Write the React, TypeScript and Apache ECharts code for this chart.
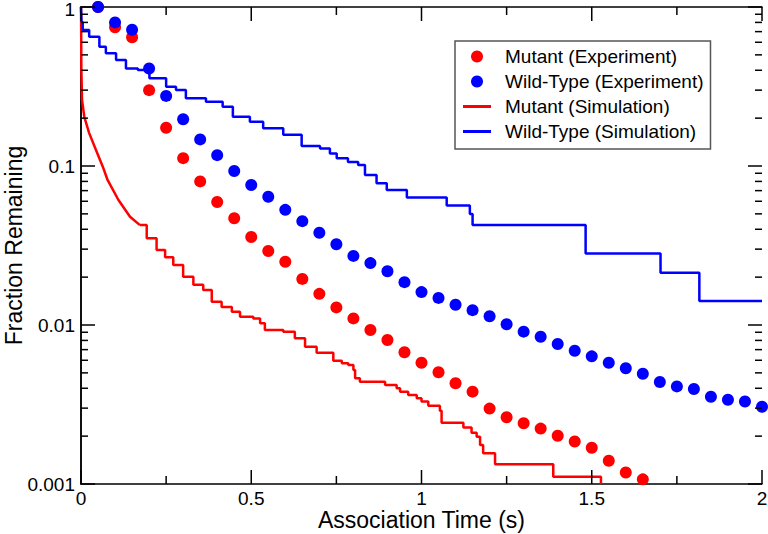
import React, { useEffect, useRef } from "react";
import * as echarts from "echarts";

// Experimental time points (s)
const expTimes = [0.05, 0.1, 0.15, 0.2, 0.25, 0.3, 0.35, 0.4, 0.45, 0.5, 0.55, 0.6, 0.65, 0.7, 0.75, 0.8, 0.85, 0.9, 0.95, 1.0,
  1.05, 1.1, 1.15, 1.2, 1.25, 1.3, 1.35, 1.4, 1.45, 1.5, 1.55, 1.6, 1.65, 1.7, 1.75, 1.8, 1.85, 1.9, 1.95, 2.0];

const mutantExp = [1.0, 0.745, 0.645, 0.30, 0.174, 0.112, 0.080, 0.0594, 0.0469, 0.0358, 0.0292, 0.025, 0.0195, 0.0157,
  0.0129, 0.0110, 0.0093, 0.00805, 0.00674, 0.00579, 0.00504, 0.0043, 0.00381, 0.00298, 0.00263, 0.00241, 0.00223,
  0.00201, 0.00185, 0.00169, 0.0014, 0.00118, 0.00107];

const wildExp = [1.0, 0.80, 0.72, 0.41, 0.276, 0.197, 0.147, 0.117, 0.093, 0.076, 0.064, 0.053, 0.045, 0.038, 0.0322,
  0.0272, 0.0245, 0.0218, 0.0186, 0.0161, 0.0148, 0.0134, 0.0124, 0.01135, 0.0101, 0.00908, 0.00844, 0.00760,
  0.00689, 0.00635, 0.00579, 0.00534, 0.00494, 0.00438, 0.00411, 0.00396, 0.00354, 0.00339, 0.0033, 0.00306];

// Mutant simulation: dense early decay (smooth) then stepwise survival curve
const mutantSimEarlyT = [0, 0.0005, 0.001, 0.003, 0.0097, 0.024, 0.044, 0.064, 0.078, 0.11, 0.144, 0.173];
const mutantSimEarlyV = [1.0, 0.75, 0.42, 0.26, 0.204, 0.161, 0.126, 0.099, 0.0817, 0.0611, 0.048, 0.0425];
const mutantSimT = [0.173, 0.193, 0.222,
  0.247, 0.271, 0.300, 0.330, 0.359, 0.384, 0.413, 0.443, 0.467, 0.506, 0.526, 0.540, 0.594, 0.628, 0.658, 0.692,
  0.741, 0.766, 0.785, 0.800, 0.805, 0.819, 0.893, 0.927, 0.937, 0.961, 0.986, 1.0, 1.02, 1.054, 1.059, 1.123,
  1.147, 1.162, 1.172, 1.181, 1.216, 1.387, 1.527];
const mutantSimV = [0.0425, 0.0351, 0.0296,
  0.0267, 0.0238, 0.0201, 0.0179, 0.0166, 0.0140, 0.0130, 0.0121, 0.01128, 0.0110, 0.01025, 0.0093, 0.00908, 0.00825,
  0.00731, 0.0067, 0.00596, 0.00574, 0.0056, 0.00521, 0.00462, 0.0044, 0.0042, 0.0040, 0.0038, 0.00363, 0.00346,
  0.0033, 0.0031, 0.00289, 0.00243, 0.00227, 0.0021, 0.00198, 0.00176, 0.00156, 0.00133, 0.00111, 0.001];

// Wild-type simulation survival curve
const wildSimT = [0, 0.0015, 0.005, 0.024, 0.054, 0.073, 0.103, 0.132, 0.167, 0.201, 0.25, 0.279, 0.308, 0.367, 0.416,
  0.446, 0.496, 0.535, 0.594, 0.648, 0.702, 0.731, 0.751, 0.784, 0.814, 0.834, 0.868, 0.898, 0.957, 1.074, 1.142,
  1.150, 1.482, 1.702, 1.816, 2.0];
const wildSimV = [1.0, 0.805, 0.717, 0.650, 0.563, 0.512, 0.464, 0.411, 0.402, 0.356, 0.315, 0.301, 0.267, 0.254, 0.236,
  0.204, 0.190, 0.173, 0.157, 0.1336, 0.129, 0.120, 0.112, 0.106, 0.1015, 0.0878, 0.0778, 0.0706, 0.0634, 0.0565,
  0.0499, 0.0425, 0.0282, 0.0213, 0.01416, 0.01416];

const xTicks = [0, 0.5, 1, 1.5, 2];
const xMinorTicks = [0.25, 0.75, 1.25, 1.75];
const yDecades = [0.001, 0.01, 0.1, 1];

const seriesNames = ["Mutant (Experiment)", "Wild-Type (Experiment)", "Mutant (Simulation)", "Wild-Type (Simulation)"];

// Minor tick values for the log axis (2..9 x 10^k)
const yMinorTicks: number[] = [];
for (let k = 0; k < yDecades.length - 1; k++) {
  for (let m = 2; m <= 9; m++) yMinorTicks.push(m * yDecades[k]);
}

const FONT = "'Liberation Sans', Arial, Helvetica, sans-serif";

export default function App() {
  const ref = useRef<HTMLDivElement>(null);
  useEffect(() => {
    if (!ref.current) return;
    const chart = echarts.init(ref.current, null, { renderer: "svg" });
    const zip = (a: number[], b: number[]) => a.map((v, i) => [v, b[i]]);
    const axisLine = { show: true, lineStyle: { color: "#000", width: 1.5 } };
    const tickStyle = { stroke: "#000", lineWidth: 1.5 };

    // ticks drawn through the axes' own scales (all pointing inward, mirrored on both sides)
    const tickData: number[][] = [
      ...xTicks.map((v) => [0, v, 14]),
      ...xMinorTicks.map((v) => [0, v, 8]),
      ...yDecades.map((v) => [1, v, 14]),
      ...yMinorTicks.map((v) => [1, v, 7]),
    ];

    const option: any = {
      animation: false,
      backgroundColor: "#fff",
      grid: { left: 81, right: 6, top: 7, bottom: 50, containLabel: false, outerBoundsMode: "none" },
      legend: {
        orient: "vertical",
        left: 455,
        top: 41,
        padding: [3, 7, 5, 8],
        itemGap: 0,
        itemWidth: 28,
        itemHeight: 12,
        borderColor: "#555",
        borderWidth: 1.5,
        backgroundColor: "#fff",
        textStyle: { fontFamily: FONT, fontSize: 19, color: "#000", lineHeight: 25, padding: [0, 0, 0, 9] },
        data: [
          { name: seriesNames[0], icon: "circle" },
          { name: seriesNames[1], icon: "circle" },
          { name: seriesNames[2], icon: "path://M0,0 H28 V3 H0 Z" },
          { name: seriesNames[3], icon: "path://M0,0 H28 V3 H0 Z" },
        ],
      },
      xAxis: [
        {
          type: "value",
          min: xTicks[0],
          max: xTicks[xTicks.length - 1],
          interval: 0.5,
          position: "bottom",
          name: "Association Time (s)",
          nameLocation: "middle",
          nameGap: 23,
          nameMoveOverlap: false,
          nameTextStyle: { fontFamily: FONT, fontSize: 23, color: "#000", lineHeight: 26 },
          axisLine,
          axisTick: { show: false },
          axisLabel: {
            fontFamily: FONT, fontSize: 19, color: "#000", margin: 5,
            formatter: (v: number) => String(v),
          },
          splitLine: { show: false },
        },
        {
          type: "value",
          min: xTicks[0],
          max: xTicks[xTicks.length - 1],
          interval: 0.5,
          position: "top",
          axisLine,
          axisTick: { show: false },
          axisLabel: { show: false },
          splitLine: { show: false },
        },
      ],
      yAxis: [
        {
          type: "log",
          logBase: 10,
          min: yDecades[0],
          max: yDecades[yDecades.length - 1],
          position: "left",
          name: "Fraction Remaining",
          nameLocation: "middle",
          nameGap: 55,
          nameMoveOverlap: false,
          nameTextStyle: { fontFamily: FONT, fontSize: 23, color: "#000", lineHeight: 24 },
          axisLine,
          axisTick: { show: false },
          axisLabel: {
            fontFamily: FONT, fontSize: 19, color: "#000", margin: 6,
            formatter: (v: number) => {
              const s = String(parseFloat(v.toPrecision(3)));
              return v > 0.5 ? "{top|" + s + "}" : s;
            },
            rich: { top: { fontFamily: FONT, fontSize: 19, color: "#000", lineHeight: 10, padding: [4, 0, 0, 0] } },
          },
          splitLine: { show: false },
        },
        {
          type: "log",
          logBase: 10,
          min: yDecades[0],
          max: yDecades[yDecades.length - 1],
          position: "right",
          axisLine,
          axisTick: { show: false },
          axisLabel: { show: false },
          splitLine: { show: false },
        },
      ],
      series: [
        {
          name: seriesNames[2],
          type: "line",
          symbol: "none",
          data: zip(mutantSimEarlyT, mutantSimEarlyV),
          lineStyle: { color: "#ff0000", width: 2.5 },
          itemStyle: { color: "#ff0000" },
          z: 2,
        },
        {
          name: seriesNames[2],
          type: "line",
          step: "end",
          symbol: "none",
          data: zip(mutantSimT, mutantSimV),
          lineStyle: { color: "#ff0000", width: 2.5 },
          itemStyle: { color: "#ff0000" },
          z: 2,
        },
        {
          name: seriesNames[3],
          type: "line",
          step: "end",
          symbol: "none",
          data: zip(wildSimT, wildSimV),
          lineStyle: { color: "#0000ff", width: 2.5 },
          itemStyle: { color: "#0000ff" },
          z: 2,
        },
        {
          name: seriesNames[0],
          type: "scatter",
          symbol: "circle",
          symbolSize: 12,
          clip: false,
          data: zip(expTimes.slice(0, mutantExp.length), mutantExp),
          itemStyle: { color: "#ff0000", opacity: 1 },
          z: 3,
        },
        {
          name: seriesNames[1],
          type: "scatter",
          symbol: "circle",
          symbolSize: 12,
          clip: false,
          data: zip(expTimes, wildExp),
          itemStyle: { color: "#0000ff", opacity: 1 },
          z: 4,
        },
        {
          name: "axisTicks",
          type: "custom",
          silent: true,
          clip: false,
          xAxisIndex: 0,
          yAxisIndex: 0,
          data: tickData,
          renderItem: (params: any, api: any) => {
            const kind = api.value(0);
            const v = api.value(1);
            const len = api.value(2);
            const cs = params.coordSys;
            if (kind === 0) {
              const p = api.coord([v, 0.01]);
              const x = p[0];
              const yb = cs.y + cs.height;
              return {
                type: "group",
                children: [
                  { type: "line", shape: { x1: x, y1: yb, x2: x, y2: yb - len }, style: tickStyle },
                  { type: "line", shape: { x1: x, y1: cs.y, x2: x, y2: cs.y + len }, style: tickStyle },
                ],
              };
            }
            const p = api.coord([0, v]);
            const y = p[1];
            return {
              type: "group",
              children: [
                { type: "line", shape: { x1: cs.x, y1: y, x2: cs.x + len, y2: y }, style: tickStyle },
                { type: "line", shape: { x1: cs.x + cs.width - len, y1: y, x2: cs.x + cs.width, y2: y }, style: tickStyle },
              ],
            };
          },
          z: 5,
        },
      ],
    };
    chart.setOption(option);
    return () => chart.dispose();
  }, []);
  return (
    <div
      ref={ref}
      style={{ position: "absolute", left: 0, top: 0, width: 768, height: 534, background: "#fff" }}
    />
  );
}
